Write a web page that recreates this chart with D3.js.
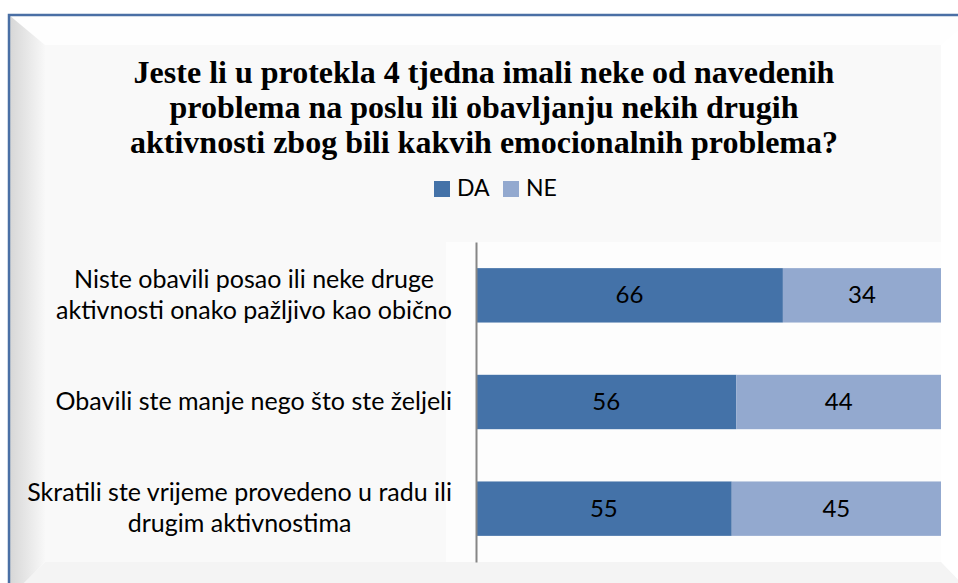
<!DOCTYPE html>
<html>
<head>
<meta charset="utf-8">
<script src="https://cdn.jsdelivr.net/npm/d3@7"></script>
<style>
  body { margin: 0; background: #fff; }
  svg { display: block; }
</style>
</head>
<body>
<svg id="chart"></svg>
<script>
const categories = [
  "Niste obavili posao ili neke druge\naktivnosti onako pažljivo kao obično",
  "Obavili ste manje nego što ste željeli",
  "Skratili ste vrijeme provedeno u radu ili\ndrugim aktivnostima"
];
const seriesNames = ["DA", "NE"];
const daValues = [66, 56, 55];
const neValues = [34, 44, 45];
const titleLines = [
  "Jeste li u protekla 4 tjedna imali neke od navedenih",
  "problema na poslu ili obavljanju nekih drugih",
  "aktivnosti zbog bili kakvih emocionalnih problema?"
];

const width = 958;
const height = 583;
const colors = { DA: "#4472a8", NE: "#93a9cf" };
const labelFont = "Lato, 'Open Sans', sans-serif";

const rows = categories.map((c, i) => ({ cat: c, DA: daValues[i], NE: neValues[i] }));

const svg = d3.select("#chart")
  .attr("width", width)
  .attr("height", height);

// frame with bevel
const defs = svg.append("defs");
const leftGrad = defs.append("linearGradient").attr("id", "leftGrad");
leftGrad.append("stop").attr("offset", "0%").attr("stop-color", "#d6d6d6");
leftGrad.append("stop").attr("offset", "100%").attr("stop-color", "#f8f8f8");

const outer = { x0: 9, y0: 15, x1: 976, y1: 598 };
const inner = { x0: 45, y0: 45, x1: 941, y1: 562 };

svg.append("polygon") // top
  .attr("points", [[outer.x0, outer.y0], [outer.x1, outer.y0], [inner.x1, inner.y0], [inner.x0, inner.y0]].join(" "))
  .attr("fill", "#fefefe");
svg.append("polygon") // right
  .attr("points", [[outer.x1, outer.y0], [outer.x1, outer.y1], [inner.x1, inner.y1], [inner.x1, inner.y0]].join(" "))
  .attr("fill", "#ffffff");
svg.append("polygon") // bottom
  .attr("points", [[outer.x0, outer.y1], [outer.x1, outer.y1], [inner.x1, inner.y1], [inner.x0, inner.y1]].join(" "))
  .attr("fill", "#f4f4f4");
svg.append("polygon") // left
  .attr("points", [[outer.x0, outer.y0], [inner.x0, inner.y0], [inner.x0, inner.y1], [outer.x0, outer.y1]].join(" "))
  .attr("fill", "url(#leftGrad)");
svg.append("rect")
  .attr("x", inner.x0).attr("y", inner.y0)
  .attr("width", inner.x1 - inner.x0).attr("height", inner.y1 - inner.y0)
  .attr("fill", "#f9f9f9");

// scales
const margin = { top: 242, right: 17, bottom: 21, left: 476 };
const xScale = d3.scaleLinear()
  .domain([0, 100])
  .range([margin.left, width - margin.right]);
const yScale = d3.scaleBand()
  .domain(categories)
  .range([margin.top, height - margin.bottom])
  .paddingInner(0.49)
  .paddingOuter(0.245);

// plot area
svg.append("rect")
  .attr("x", 446)
  .attr("y", margin.top)
  .attr("width", xScale(100) - 446)
  .attr("height", height - margin.bottom - margin.top)
  .attr("fill", "#fdfdfd");

// title
svg.append("text")
  .attr("text-anchor", "middle")
  .attr("font-family", "'Liberation Serif', 'Times New Roman', serif")
  .attr("font-weight", "bold")
  .attr("font-size", 32)
  .attr("fill", "#000")
  .selectAll("tspan")
  .data(titleLines)
  .enter()
  .append("tspan")
  .attr("x", 484)
  .attr("y", (d, i) => 83 + i * 35)
  .text((d) => d);

// legend
const legend = svg.append("g");
const legendItems = legend.selectAll("g")
  .data(seriesNames)
  .enter()
  .append("g")
  .attr("transform", (d, i) => `translate(${434 + i * 69}, 181)`);
legendItems.append("rect")
  .attr("width", 16)
  .attr("height", 16)
  .attr("fill", (d) => colors[d]);
legendItems.append("text")
  .attr("x", 23)
  .attr("y", 15)
  .attr("font-family", labelFont)
  .attr("font-size", 23)
  .attr("fill", "#000")
  .text((d) => d);

// bars
const stacked = d3.stack().keys(seriesNames)(rows);
const layers = svg.selectAll("g.layer")
  .data(stacked)
  .enter()
  .append("g")
  .attr("class", "layer")
  .attr("fill", (d) => colors[d.key]);

layers.selectAll("rect")
  .data((d) => d)
  .enter()
  .append("rect")
  .attr("x", (d) => xScale(d[0]))
  .attr("y", (d) => yScale(d.data.cat))
  .attr("width", (d) => xScale(d[1]) - xScale(d[0]))
  .attr("height", yScale.bandwidth());

layers.selectAll("text")
  .data((d) => d.map((v) => ({ v, key: d.key })))
  .enter()
  .append("text")
  .attr("x", (d) => (xScale(d.v[0]) + xScale(d.v[1])) / 2)
  .attr("y", (d) => yScale(d.v.data.cat) + yScale.bandwidth() / 2 + 8)
  .attr("text-anchor", "middle")
  .attr("font-family", labelFont)
  .attr("font-size", 24)
  .attr("fill", "#000")
  .text((d) => d.v.data[d.key]);

// y axis
const yAxis = d3.axisLeft(yScale).tickSize(0).tickFormat("");
const axisG = svg.append("g")
  .attr("transform", `translate(${margin.left}, 0)`)
  .call(yAxis);
axisG.select(".domain").attr("stroke", "#868686").attr("stroke-width", 2);

// category labels (multi-line, block right aligned, lines centred)
categories.forEach((c) => {
  const lines = c.split("\n");
  const cy = yScale(c) + yScale.bandwidth() / 2;
  const g = svg.append("g");
  const texts = g.selectAll("text")
    .data(lines)
    .enter()
    .append("text")
    .attr("text-anchor", "middle")
    .attr("font-family", labelFont)
    .attr("font-size", 25)
    .attr("fill", "#000")
    .attr("y", (d, i) => cy + 8 + (i - (lines.length - 1) / 2) * 31)
    .text((d) => d);
  let maxW = 0;
  texts.each(function () { maxW = Math.max(maxW, this.getComputedTextLength()); });
  texts.attr("x", 452 - maxW / 2);
});

// outer border
svg.append("path")
  .attr("d", `M${outer.x0},${outer.y1 + 10}V${outer.y0}H${outer.x1 + 10}`)
  .attr("fill", "none")
  .attr("stroke", "#4a6fa5")
  .attr("stroke-width", 2.5);
</script>
</body>
</html>
